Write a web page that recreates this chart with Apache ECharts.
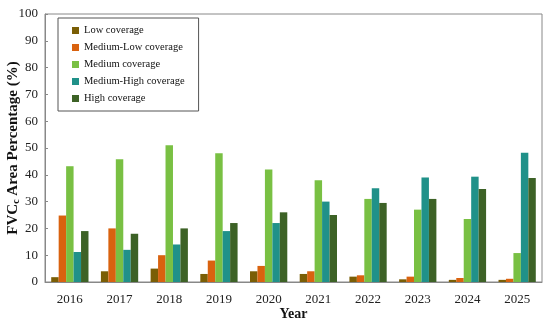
<!DOCTYPE html>
<html><head><meta charset="utf-8">
<script src="https://cdn.jsdelivr.net/npm/echarts@6/dist/echarts.min.js"></script>
<style>html,body{margin:0;padding:0;background:#fff}#c{width:550px;height:323px}</style>
</head><body><div id="c"></div>
<script>
const years = ['2016','2017','2018','2019','2020','2021','2022','2023','2024','2025'];
const seriesNames = ['Low coverage','Medium-Low coverage','Medium coverage','Medium-High coverage','High coverage'];
const lowCov = [1.8, 4, 5, 3, 4, 3, 2, 1, 0.8, 0.8];
const medLowCov = [24.8, 20, 10, 8, 6, 4, 2.5, 2, 1.5, 1.2];
const medCov = [43.2, 45.8, 51, 48, 42, 38, 31, 27, 23.5, 10.8];
const medHighCov = [11.2, 12, 14, 19, 22, 30, 35, 39, 39.3, 48.2];
const highCov = [19, 18, 20, 22, 26, 25, 29.5, 31, 34.7, 38.8];
const colors = ['#7a5e05','#d9620f','#79c043','#209189','#3d6226'];
const dataSets = [lowCov, medLowCov, medCov, medHighCov, highCov];
const font = '"Liberation Serif","Times New Roman",serif';
const chart = echarts.init(document.getElementById('c'));
chart.setOption({
  animation: false,
  textStyle: {fontFamily: font},
  grid: {left: 45, right: 8, top: 14, bottom: 41, show: true, borderColor: '#888', borderWidth: 1,
    containLabel: false, outerBoundsMode: 'none'},
  legend: {
    orient: 'vertical', left: 58, top: 18,
    data: seriesNames,
    icon: 'rect', itemWidth: 7, itemHeight: 7, itemGap: 6,
    borderColor: '#555', borderWidth: 1, padding: [7, 14, 7, 14],
    textStyle: {fontFamily: font, fontSize: 10.5, color: '#111'}
  },
  xAxis: {
    type: 'category', data: years,
    axisLine: {lineStyle: {color: '#888'}},
    axisTick: {show: false},
    axisLabel: {fontFamily: font, fontSize: 13, color: '#222', margin: 11},
    name: 'Year', nameLocation: 'middle', nameGap: 25, nameMoveOverlap: false,
    nameTextStyle: {fontFamily: font, fontSize: 14, fontWeight: 'bold', color: '#111'}
  },
  yAxis: {
    type: 'value', min: 0, max: 100, interval: 10,
    axisLine: {show: true, lineStyle: {color: '#888'}},
    axisTick: {show: true, inside: true, length: 3, lineStyle: {color: '#888'}},
    splitLine: {show: false},
    axisLabel: {fontFamily: font, fontSize: 13, color: '#222', margin: 7},
    name: 'FVC{sub|c} Area Percentage (%)', nameLocation: 'middle', nameGap: 24, nameRotate: 90,
    nameMoveOverlap: false,
    nameTextStyle: {fontFamily: font, fontSize: 15, fontWeight: 'bold', color: '#111',
      rich: {sub: {fontFamily: font, fontSize: 10, fontWeight: 'bold', color: '#111', verticalAlign: 'bottom', padding: [6,0,0,0]}}}
  },
  series: dataSets.map((d, i) => ({
    name: seriesNames[i], type: 'bar', data: d,
    itemStyle: {color: colors[i]},
    barGap: '0%', barCategoryGap: '25%'
  }))
});
</script></body></html>
